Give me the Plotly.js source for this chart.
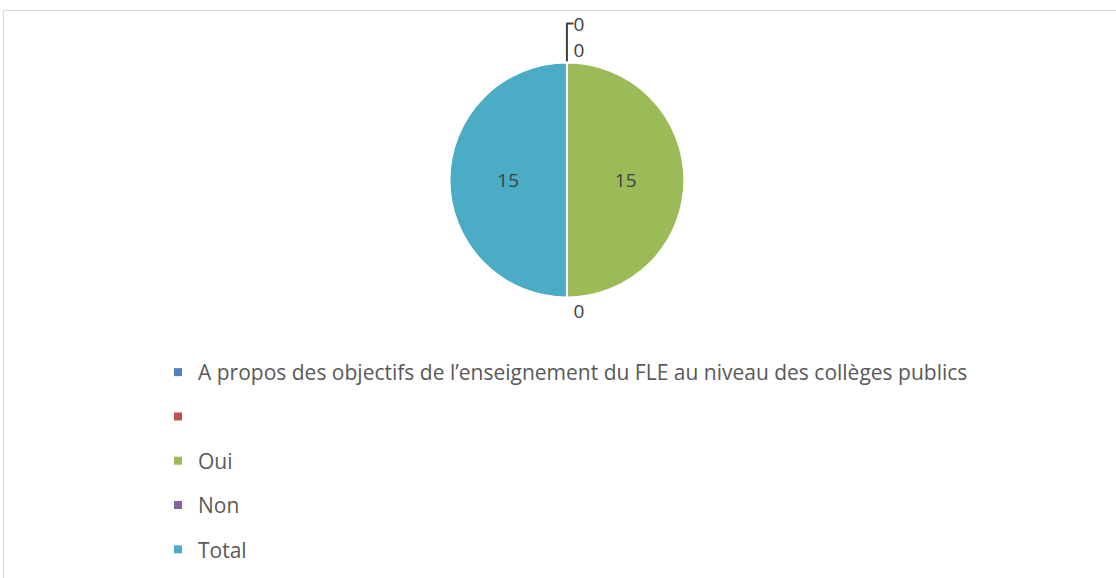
<!DOCTYPE html>
<html>
<head>
<meta charset="utf-8">
<script src="https://cdn.plot.ly/plotly-3.0.1.min.js"></script>
<style>html,body{margin:0;padding:0;background:#fff;}#chart{width:1116px;height:578px;}</style>
</head>
<body>
<div id="chart"></div>
<script>
const categories = ["A propos des objectifs de l’enseignement du FLE au niveau des collèges publics", " ", "Oui", "Non", "Total"];
const values = [0, 0, 15, 0, 15];
const colors = ["#4F81BD", "#C0504D", "#9BBB59", "#8064A2", "#4BACC6"];
const textPositions = ["outside", "outside", "inside", "outside", "inside"];

const W = 1116, H = 578;
const font = "Open Sans, Liberation Sans, Arial, sans-serif";

const pie = {
  type: "pie",
  labels: categories,
  values: values,
  sort: false,
  direction: "clockwise",
  rotation: 0,
  marker: {colors: colors, line: {color: "#ffffff", width: 2}},
  textinfo: "value",
  textposition: textPositions,
  insidetextorientation: "horizontal",
  textfont: {family: font, size: 19, color: "#404040"},
  outsidetextfont: {family: font, size: 19, color: "#404040"},
  insidetextfont: {family: font, size: 19, color: "#404040"},
  showlegend: false,
  hoverinfo: "label+value",
  domain: {x: [0.3, 0.716], y: [1 - 297.5 / H, 1 - 62.5 / H]}
};

const legendTraces = categories.map((c, i) => ({
  type: "scatter",
  mode: "markers",
  x: [null], y: [null],
  name: c,
  legendgroup: "g" + i,
  marker: {symbol: "square", size: 8, color: colors[i]},
  showlegend: true,
  hoverinfo: "skip"
}));

const layout = {
  width: W, height: H,
  margin: {l: 0, r: 0, t: 0, b: 0},
  paper_bgcolor: "#ffffff",
  plot_bgcolor: "#ffffff",
  xaxis: {visible: false},
  yaxis: {visible: false},
  showlegend: true,
  legend: {
    x: 158 / W, xanchor: "left",
    y: 1 - 352 / H, yanchor: "top",
    traceorder: "grouped",
    tracegroupgap: 14,
    font: {family: font, size: 21, color: "#595959"},
    bgcolor: "rgba(0,0,0,0)"
  },
  shapes: [{
    type: "rect", xref: "paper", yref: "paper",
    x0: 3.5 / W, x1: 1.05, y0: -0.05, y1: 1 - 10.5 / H,
    line: {color: "#D9D9D9", width: 1}
  }]
};

Plotly.newPlot("chart", [pie].concat(legendTraces), layout, {displayModeBar: false, staticPlot: true});
</script>
</body>
</html>
